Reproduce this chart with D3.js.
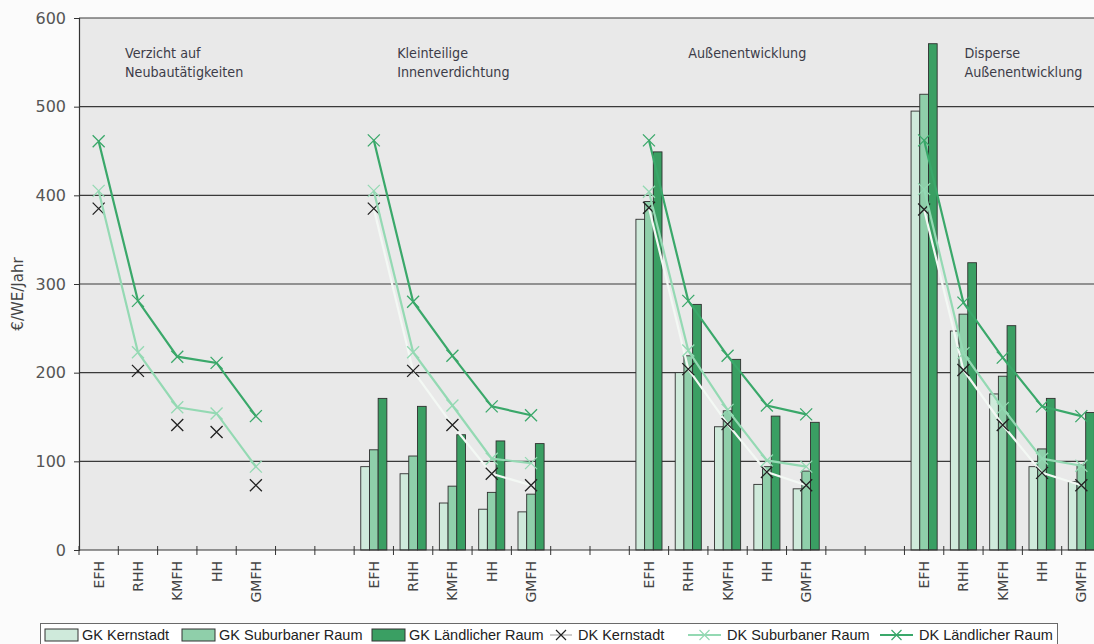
<!DOCTYPE html>
<html>
<head>
<meta charset="utf-8">
<script src="https://cdn.jsdelivr.net/npm/d3@7"></script>
<style>
  body { margin: 0; background: #fbfbfb; }
  svg { display: block; }
</style>
</head>
<body>
<div id="chart"></div>
<script>
// ── Data ──────────────────────────────────────────────────────────────────────
const types = ["EFH", "RHH", "KMFH", "HH", "GMFH"];
const groups = ["Verzicht auf|Neubautätigkeiten", "Kleinteilige|Innenverdichtung",
                "Außenentwicklung", "Disperse|Außenentwicklung"];
const yTicks = [0, 100, 200, 300, 400, 500, 600];

// GK = bars (group 1 has none)
const gkKernstadt  = [[], [94, 86, 53, 46, 43], [373, 200, 139, 74, 69], [495, 247, 176, 94, 77]];
const gkSuburban   = [[], [113, 106, 72, 65, 63], [393, 219, 157, 94, 89], [514, 266, 196, 114, 96]];
const gkLaendlich  = [[], [171, 162, 130, 123, 120], [449, 277, 215, 151, 144], [571, 324, 253, 171, 155]];

// DK = lines with x markers
const dkKernstadt  = [[385, 202, 141, 133, 73], [385, 202, 141, 86, 73], [386, 204, 142, 88, 73], [384, 203, 141, 87, 73]];
const dkSuburban   = [[405, 223, 161, 154, 94], [405, 223, 163, 103, 98], [404, 225, 158, 101, 94], [407, 222, 160, 103, 95]];
const dkLaendlich  = [[461, 281, 218, 211, 151], [462, 280, 219, 162, 152], [462, 281, 219, 163, 153], [462, 279, 217, 162, 151]];

const SLOTS_PER_GROUP = 7;   // 5 types + 2 empty slots
const N_SLOTS = 26;

// ── Layout ────────────────────────────────────────────────────────────────────
const W = 1094, H = 644;
const plot = { left: 79, right: 1101, top: 18, bottom: 550 };
const FONT = "DejaVu Sans, sans-serif";
const FONT_COND = "DejaVu Sans Condensed, DejaVu Sans, sans-serif";

const svg = d3.select("#chart").append("svg").attr("width", W).attr("height", H);

const x = d3.scaleBand().domain(d3.range(N_SLOTS)).range([plot.left, plot.right]).padding(0);
const y = d3.scaleLinear().domain([0, 600]).range([plot.bottom, plot.top]);

const barSeries = [
  { name: "GK Kernstadt",       data: gkKernstadt, fill: "#cfeadb" },
  { name: "GK Suburbaner Raum", data: gkSuburban,  fill: "#8fcfaa" },
  { name: "GK Ländlicher Raum", data: gkLaendlich, fill: "#3a9f63" },
];
const lineSeries = [
  { name: "DK Kernstadt",       data: dkKernstadt, stroke: "#f3f8f4", marker: "#222", skipLine: [0] },
  { name: "DK Suburbaner Raum", data: dkSuburban,  stroke: "#94d9b3", marker: "#94d9b3", skipLine: [] },
  { name: "DK Ländlicher Raum", data: dkLaendlich, stroke: "#3aa86a", marker: "#3aa86a", skipLine: [] },
];

const inner = d3.scaleBand().domain(d3.range(3)).range([0, x.bandwidth()])
  .paddingInner(0).paddingOuter(0.76);

const slotOf = (g, i) => g * SLOTS_PER_GROUP + i;

// plot background
svg.append("rect")
  .attr("x", plot.left).attr("y", plot.top)
  .attr("width", plot.right - plot.left).attr("height", plot.bottom - plot.top)
  .attr("fill", "#e9e9e9");

// gridlines
svg.append("g").selectAll("line").data(yTicks.filter(d => d > 0)).enter().append("line")
  .attr("x1", plot.left).attr("x2", plot.right)
  .attr("y1", d => y(d)).attr("y2", d => y(d))
  .attr("stroke", "#3a3a3a").attr("stroke-width", 1.1);

// group titles
const titleDx = [46, 43, 59, 60];
groups.forEach((title, g) => {
  const t = svg.append("text")
    .attr("x", x(slotOf(g, 0)) + titleDx[g]).attr("y", 58)
    .attr("font-family", FONT_COND)
    .attr("font-size", 14.2).attr("fill", "#3c3c48");
  title.split("|").forEach((line, k) => {
    t.append("tspan").attr("x", x(slotOf(g, 0)) + titleDx[g]).attr("dy", k === 0 ? 0 : 19).text(line);
  });
});

// bars
barSeries.forEach((s, si) => {
  const rows = [];
  s.data.forEach((vals, g) => vals.forEach((v, i) => rows.push({ slot: slotOf(g, i), v })));
  svg.append("g").selectAll("rect").data(rows).enter().append("rect")
    .attr("x", d => x(d.slot) + inner(si))
    .attr("y", d => y(d.v))
    .attr("width", inner.bandwidth())
    .attr("height", d => y(0) - y(d.v))
    .attr("fill", s.fill)
    .attr("stroke", "#2f2f2f").attr("stroke-width", 0.9);
});

// lines + x markers
const line = d3.line().x(d => x(d.slot) + x.bandwidth() / 2).y(d => y(d.v));
lineSeries.forEach(s => {
  const gEl = svg.append("g");
  s.data.forEach((vals, g) => {
    const pts = vals.map((v, i) => ({ slot: slotOf(g, i), v }));
    if (!s.skipLine.includes(g)) {
      gEl.append("path").datum(pts).attr("d", line)
        .attr("fill", "none").attr("stroke", s.stroke).attr("stroke-width", 2.2);
    }
    gEl.selectAll(null).data(pts).enter().append("path")
      .attr("transform", d => `translate(${x(d.slot) + x.bandwidth() / 2},${y(d.v)})`)
      .attr("d", "M-6,-6L6,6M-6,6L6,-6")
      .attr("stroke", s.marker).attr("stroke-width", 1.3);
  });
});

// y axis
const yAxis = svg.append("g").attr("transform", `translate(${plot.left},0)`)
  .call(d3.axisLeft(y).tickValues(yTicks).tickSize(5).tickPadding(8));
yAxis.select(".domain").attr("stroke", "#333").attr("stroke-width", 1.2);
yAxis.selectAll(".tick line").attr("stroke", "#333");
yAxis.selectAll(".tick text")
  .attr("font-family", FONT)
  .attr("font-size", 16).attr("fill", "#555");

svg.append("text")
  .attr("transform", `translate(23,${(plot.top + plot.bottom) / 2 + 10}) rotate(-90)`)
  .attr("text-anchor", "middle")
  .attr("font-family", FONT)
  .attr("font-size", 15).attr("fill", "#444")
  .text("€/WE/Jahr");

// x axis: baseline, ticks at every slot boundary, rotated labels
svg.append("line")
  .attr("x1", plot.left).attr("x2", plot.right)
  .attr("y1", y(0)).attr("y2", y(0))
  .attr("stroke", "#333").attr("stroke-width", 1.2);
svg.append("g").selectAll("line").data(d3.range(N_SLOTS + 1)).enter().append("line")
  .attr("x1", d => plot.left + d * x.step()).attr("x2", d => plot.left + d * x.step())
  .attr("y1", y(0) - 4).attr("y2", y(0) + 5)
  .attr("stroke", "#333");

const catLabels = [];
groups.forEach((_, g) => types.forEach((t, i) => catLabels.push({ slot: slotOf(g, i), t })));
svg.append("g").selectAll("text").data(catLabels).enter().append("text")
  .attr("transform", d => `translate(${x(d.slot) + x.bandwidth() / 2 + 5},561) rotate(-90)`)
  .attr("text-anchor", "end")
  .attr("font-family", FONT)
  .attr("font-size", 14).attr("fill", "#444")
  .text(d => d.t);

// ── Legend ────────────────────────────────────────────────────────────────────
const legend = svg.append("g");
legend.append("rect")
  .attr("x", 40.5).attr("y", 623.5).attr("width", 1017).attr("height", 30)
  .attr("fill", "#fff").attr("stroke", "#6a6a6a");

const legendX = [45, 182, 372, 550, 688, 880];
const ly = 635;
const legendText = (tx, txt) => legend.append("text").attr("x", tx).attr("y", ly + 5)
  .attr("font-family", "Liberation Sans, Arial, sans-serif")
  .attr("font-size", 14.5).attr("fill", "#222").text(txt);

barSeries.forEach((s, i) => {
  const lx = legendX[i];
  legend.append("rect").attr("x", lx).attr("y", ly - 6).attr("width", 33).attr("height", 12)
    .attr("fill", s.fill).attr("stroke", "#333");
  legendText(lx + 37, s.name);
});
lineSeries.forEach((s, i) => {
  const lx = legendX[i + 3];
  const len = i === 0 ? 22 : 33;
  legend.append("line").attr("x1", lx).attr("x2", lx + len).attr("y1", ly).attr("y2", ly)
    .attr("stroke", i === 0 ? "#aaa" : s.stroke).attr("stroke-width", i === 0 ? 1.2 : 2);
  legend.append("path").attr("transform", `translate(${lx + len / 2},${ly})`)
    .attr("d", "M-5,-5L5,5M-5,5L5,-5").attr("stroke", s.marker).attr("stroke-width", 1.2);
  legendText(lx + len + 6, s.name);
});
</script>
</body>
</html>
